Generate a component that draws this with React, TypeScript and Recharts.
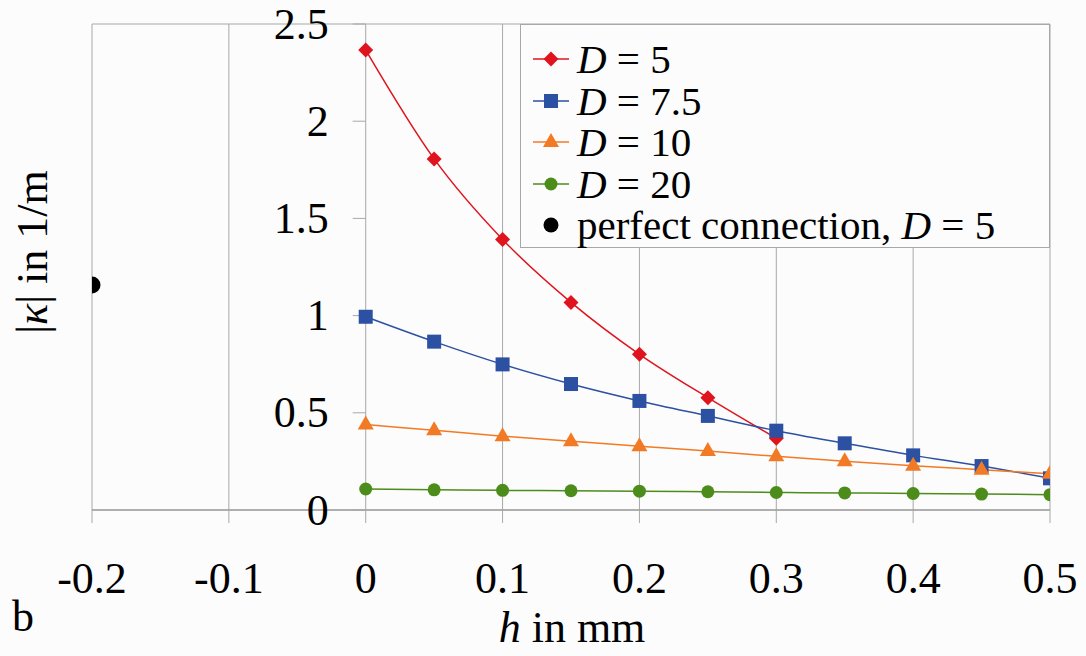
import React from 'react';
import {
  ComposedChart,
  Line,
  Scatter,
  XAxis,
  YAxis,
  CartesianGrid,
  ReferenceDot,
  Legend,
} from 'recharts';

// ---------- data ----------
const H = [0, 0.05, 0.1, 0.15, 0.2, 0.25, 0.3, 0.35, 0.4, 0.45, 0.5];
const K_D5 = [2.366, 1.806, 1.392, 1.068, 0.801, 0.578, 0.369];
const K_D75 = [0.994, 0.866, 0.749, 0.648, 0.561, 0.484, 0.408, 0.343, 0.281, 0.226, 0.163];
const K_D10 = [0.44, 0.41, 0.38, 0.354, 0.328, 0.303, 0.276, 0.251, 0.228, 0.207, 0.186];
const K_D20 = [0.108, 0.104, 0.101, 0.099, 0.097, 0.094, 0.09, 0.088, 0.085, 0.082, 0.079];
const PERFECT_X = [-0.2];
const PERFECT_Y = [1.157];

const X_TICKS = [-0.2, -0.1, 0, 0.1, 0.2, 0.3, 0.4, 0.5];
const X_TICK_LABELS = ['-0.2', '-0.1', '0', '0.1', '0.2', '0.3', '0.4', '0.5'];
const Y_TICKS = [0, 0.5, 1, 1.5, 2, 2.5];
const Y_TICK_LABELS = ['0', '0.5', '1', '1.5', '2', '2.5'];

const SERIES_NAMES = ['5', '7.5', '10', '20'];
const PERFECT_LABEL = 'perfect connection, ';

// ---------- styles ----------
const SERIF = "'Liberation Serif', 'Times New Roman', Times, 'DejaVu Serif', serif";
const RED = '#E0141E';
const BLUE = '#2C50A2';
const ORANGE = '#F27A24';
const GREEN = '#4C8C1A';
const GRID = '#a8a8a8';

const toPoints = (ys: number[]) => ys.map((y, i) => ({ x: H[i], y }));
const d5 = toPoints(K_D5);
const d75 = toPoints(K_D75);
const d10 = toPoints(K_D10);
const d20 = toPoints(K_D20);
const perfect = PERFECT_X.map((x, i) => ({ x, y: PERFECT_Y[i] }));

type Shape = 'diamond' | 'square' | 'triangle' | 'circle';

const markerPath = (shape: Shape, cx: number, cy: number, fill: string, key?: any) => {
  if (shape === 'diamond') {
    const s = 7.5;
    return <path key={key} d={`M${cx},${cy - s}L${cx + s},${cy}L${cx},${cy + s}L${cx - s},${cy}Z`} fill={fill} />;
  }
  if (shape === 'square') {
    const s = 7;
    return <rect key={key} x={cx - s} y={cy - s} width={2 * s} height={2 * s} fill={fill} />;
  }
  if (shape === 'triangle') {
    return <path key={key} d={`M${cx},${cy - 9}L${cx + 8},${cy + 5}L${cx - 8},${cy + 5}Z`} fill={fill} />;
  }
  return <circle key={key} cx={cx} cy={cy} r={6.5} fill={fill} />;
};

const makeDot = (shape: Shape, fill: string) => (p: any) =>
  markerPath(shape, p.cx, p.cy, fill, `${shape}-${p.index}`);

const SERIES: { data: any[]; color: string; shape: Shape }[] = [
  { data: d5, color: RED, shape: 'diamond' },
  { data: d75, color: BLUE, shape: 'square' },
  { data: d10, color: ORANGE, shape: 'triangle' },
  { data: d20, color: GREEN, shape: 'circle' },
];

const YTick = (p: any) => {
  const { cx, cy, label } = p;
  return (
    <g>
      <line x1={cx - 13} x2={cx} y1={cy} y2={cy} stroke={GRID} strokeWidth={1} />
      <text
        x={cx - 37}
        y={cy}
        textAnchor="end"
        dominantBaseline="central"
        style={{ fontFamily: SERIF, fontSize: 44 }}
        fill="#000"
      >
        {label}
      </text>
    </g>
  );
};

const LegendBox = () => {
  const rowH = 41.5;
  const base = 47;
  return (
    <div
      style={{
        width: 530,
        height: 224,
        boxSizing: 'border-box',
        border: `1px solid ${GRID}`,
        background: '#fcfcfc',
        position: 'relative',
        fontFamily: SERIF,
        fontSize: 41,
        color: '#000',
      }}
    >
      {SERIES.map((s, i) => (
        <div
          key={i}
          style={{ position: 'absolute', left: 12, top: base - 36 + i * rowH, height: 46, display: 'flex', alignItems: 'center', whiteSpace: 'nowrap' }}
        >
          <svg width={36} height={20} style={{ marginRight: 8 }}>
            <line x1={0} x2={36} y1={10} y2={10} stroke={s.color} strokeWidth={1.5} />
            {markerPath(s.shape, 18, 10, s.color)}
          </svg>
          <span style={{ lineHeight: '46px' }}>
            <i>D</i> = {SERIES_NAMES[i]}
          </span>
        </div>
      ))}
      <div
        style={{ position: 'absolute', left: 12, top: base - 36 + 4 * rowH, height: 46, display: 'flex', alignItems: 'center', whiteSpace: 'nowrap' }}
      >
        <svg width={36} height={20} style={{ marginRight: 8 }}>
          <circle cx={18} cy={10} r={7.5} fill="#000" />
        </svg>
        <span style={{ lineHeight: '46px' }}>
          {PERFECT_LABEL}
          <i>D</i> = {SERIES_NAMES[0]}
        </span>
      </div>
    </div>
  );
};

export default function App() {
  return (
    <div style={{ position: 'absolute', left: 0, top: 0, width: 1086, height: 656, background: '#fcfcfc', fontFamily: SERIF }}>
      <ComposedChart width={1086} height={656} margin={{ top: 24, right: 36, left: 92, bottom: 86 }} style={{ fontFamily: SERIF }}>
        <CartesianGrid stroke={GRID} strokeWidth={1} />
        <XAxis
          type="number"
          dataKey="x"
          domain={[-0.2, 0.5]}
          ticks={X_TICKS}
          allowDataOverflow
          height={60}
          axisLine={{ stroke: '#8c8c8c', strokeWidth: 1 }}
          tickLine={{ stroke: GRID, strokeWidth: 1 }}
          tickSize={13}
          tickMargin={39}
          tickFormatter={(v: number, i: number) => X_TICK_LABELS[i] ?? String(v)}
          tick={{ fontSize: 44, fill: '#000', style: { fontFamily: SERIF } }}
        />
        <YAxis
          type="number"
          dataKey="y"
          domain={[0, 2.5]}
          ticks={Y_TICKS}
          allowDataOverflow
          width={0}
          axisLine={false}
          tickLine={false}
          tick={false}
        />
        {SERIES.map((s, i) => (
          <Line
            key={i}
            data={s.data}
            dataKey="y"
            type="monotone"
            stroke={s.color}
            strokeWidth={1.5}
            dot={makeDot(s.shape, s.color)}
            activeDot={false}
            isAnimationActive={false}
            legendType="none"
          />
        ))}
        <Scatter data={perfect} dataKey="y" fill="#000" shape={(p: any) => <circle cx={p.cx} cy={p.cy} r={8.5} fill="#000" />} isAnimationActive={false} />
        {Y_TICKS.map((v, i) => (
          <ReferenceDot
            key={v}
            x={0}
            y={v}
            r={1}
            ifOverflow="visible"
            shape={(p: any) => <YTick {...p} label={Y_TICK_LABELS[i]} />}
          />
        ))}
        <Legend
          layout="vertical"
          align="center"
          verticalAlign="middle"
          content={() => <LegendBox />}
          wrapperStyle={{ top: 24, left: 520, width: 530, height: 224 }}
        />
      </ComposedChart>
      <div
        style={{
          position: 'absolute',
          left: 33,
          top: 252,
          transform: 'translate(-50%, -50%) rotate(-90deg)',
          fontSize: 44,
          whiteSpace: 'nowrap',
          color: '#000',
          lineHeight: 1,
        }}
      >
        |<i>κ</i>| in 1/m
      </div>
      <div
        style={{
          position: 'absolute',
          left: 572,
          top: 603,
          transform: 'translateX(-50%)',
          fontSize: 44,
          whiteSpace: 'nowrap',
          color: '#000',
          lineHeight: '50px',
        }}
      >
        <i>h</i> in mm
      </div>
      <div style={{ position: 'absolute', left: 12, top: 592, fontSize: 44, lineHeight: '50px', color: '#000' }}>b</div>
    </div>
  );
}
